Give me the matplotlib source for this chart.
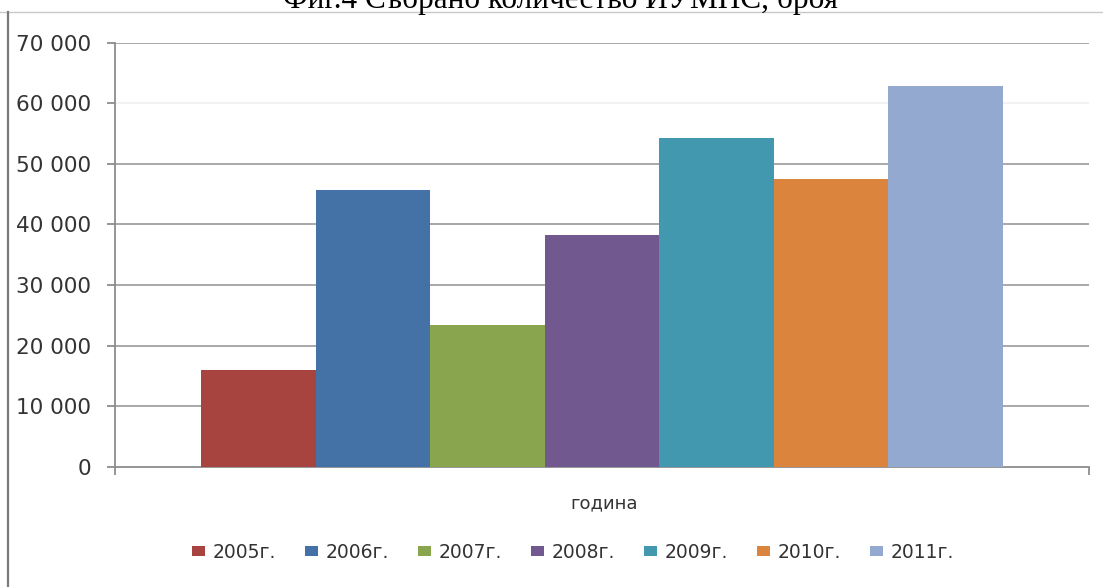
import matplotlib
matplotlib.use("Agg")
import matplotlib.pyplot as plt
from matplotlib.lines import Line2D

# ---- data ----
years = ["2005г.", "2006г.", "2007г.", "2008г.", "2009г.", "2010г.", "2011г."]
values = [15900, 45600, 23400, 38300, 54200, 47500, 62800]
colors = ["#A74440", "#4471A6", "#89A54E", "#71588F", "#4198AF", "#DB843D", "#93A9CF"]
y_ticks = [0, 10000, 20000, 30000, 40000, 50000, 60000, 70000]
y_tick_labels = ["0", "10 000", "20 000", "30 000", "40 000", "50 000", "60 000", "70 000"]
title = "Фиг.4 Събрано количество ИУМПС, броя"
x_label = "година"

W, H = 1103, 587
fig = plt.figure(figsize=(W / 100, H / 100), dpi=100)
fig.patch.set_facecolor("white")

ax = fig.add_axes([115 / W, 1 - 466.7 / H, (1089.3 - 115) / W, (466.7 - 42.7) / H])

xs = list(range(len(values)))
for x, v, c, lab in zip(xs, values, colors, years):
    ax.bar(x, v, width=1.0, color=c, label=lab, zorder=3, linewidth=0)

ax.set_xlim(-1.255, 7.255)
ax.set_ylim(0, 70000)

ax.set_yticks(y_ticks)
ax.set_yticklabels(y_tick_labels, family="DejaVu Sans", fontsize=15.5, color="#333333")
ax.tick_params(axis="y", direction="out", length=6, width=1.3, color="#8c8c8c", pad=11)
ax.set_xticks([-1.255, 7.255])
ax.set_xticklabels(["", ""])
ax.tick_params(axis="x", direction="out", length=6, width=1.3, color="#8c8c8c")

for t in y_ticks[1:]:
    ax.axhline(t, color="#a8a8a8" if t != 60000 else "#f2f2f2", lw=1.4, zorder=1)

for s in ["top", "right"]:
    ax.spines[s].set_visible(False)
for s in ["left", "bottom"]:
    ax.spines[s].set_color("#8c8c8c")
    ax.spines[s].set_linewidth(1.3)

fig.text(604 / W, 1 - 503 / H, x_label, ha="center", va="center", fontsize=13,
         color="#333333", family="DejaVu Sans")

leg = fig.legend(loc="center", bbox_to_anchor=(573 / W, 1 - 552 / H), ncol=7, frameon=False,
                 fontsize=13.5, handlelength=0.7, handleheight=0.5, handletextpad=0.4,
                 columnspacing=1.55, borderaxespad=0)
for t in leg.get_texts():
    t.set_color("#333333")

fig.text(560 / W, 1 - 8 / H, title, ha="center", va="baseline", fontsize=22.5,
         family="Liberation Serif", color="black")

fig.add_artist(Line2D([0, 1], [1 - 11.5 / H, 1 - 11.5 / H], color="#c8c8c8", lw=1.0,
                      transform=fig.transFigure))
fig.add_artist(Line2D([8 / W, 8 / W], [0, 1 - 11.5 / H], color="#7a7a7a", lw=1.6,
                      transform=fig.transFigure))

fig.savefig("out.png", dpi=100)
